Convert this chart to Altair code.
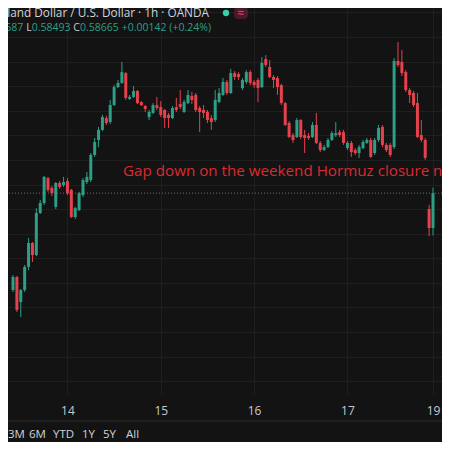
import altair as alt
import pandas as pd

# ---- hourly candles (NZD/USD, 1h) ----
open_ = [0.58271, 0.58324, 0.58222, 0.58271, 0.58365, 0.58462, 0.58413, 0.58584, 0.58625, 0.58726,
         0.58686, 0.58609, 0.58706, 0.58698, 0.58714, 0.58678, 0.58568, 0.58596, 0.58657, 0.58710,
         0.58718, 0.58820, 0.58881, 0.58922, 0.58970, 0.58954, 0.59023, 0.59096, 0.59113, 0.59153,
         0.59048, 0.59056, 0.59080, 0.59035, 0.59019, 0.58974, 0.58991, 0.59023, 0.59015, 0.59003,
         0.58983, 0.58970, 0.59015, 0.59027, 0.58995, 0.59031, 0.59060, 0.59064, 0.59011, 0.59003,
         0.58995, 0.58970, 0.58962, 0.59035, 0.59064, 0.59117, 0.59072, 0.59153, 0.59149, 0.59092,
         0.59117, 0.59157, 0.59117, 0.59125, 0.59096, 0.59210, 0.59178, 0.59137, 0.59133, 0.59104,
         0.59031, 0.58950, 0.58901, 0.58893, 0.58962, 0.58901, 0.58897, 0.58893, 0.58942, 0.58869,
         0.58840, 0.58852, 0.58881, 0.58901, 0.58913, 0.58913, 0.58848, 0.58869, 0.58840, 0.58828,
         0.58848, 0.58869, 0.58881, 0.58828, 0.58881, 0.58934, 0.58861, 0.58861, 0.58852, 0.59202,
         0.59198, 0.59157, 0.59084, 0.59072, 0.59031, 0.58901, 0.58881, 0.58600, 0.58523]
high = [0.58332, 0.58328, 0.58275, 0.58373, 0.58483, 0.58466, 0.58604, 0.58637, 0.58735, 0.58731,
        0.58694, 0.58710, 0.58714, 0.58731, 0.58726, 0.58682, 0.58609, 0.58670, 0.58726, 0.58751,
        0.58828, 0.58889, 0.58934, 0.58983, 0.58979, 0.59044, 0.59104, 0.59125, 0.59198, 0.59157,
        0.59064, 0.59100, 0.59084, 0.59039, 0.59023, 0.59003, 0.59031, 0.59056, 0.59039, 0.59007,
        0.58991, 0.59019, 0.59052, 0.59084, 0.59044, 0.59084, 0.59076, 0.59072, 0.59019, 0.59023,
        0.59003, 0.58983, 0.59084, 0.59092, 0.59133, 0.59125, 0.59170, 0.59161, 0.59157, 0.59133,
        0.59165, 0.59165, 0.59125, 0.59133, 0.59218, 0.59226, 0.59206, 0.59145, 0.59141, 0.59109,
        0.59035, 0.58958, 0.58909, 0.58970, 0.58966, 0.58922, 0.58909, 0.58954, 0.58991, 0.58877,
        0.58861, 0.58889, 0.58917, 0.58954, 0.58922, 0.58922, 0.58877, 0.58877, 0.58848, 0.58861,
        0.58881, 0.58889, 0.58889, 0.58889, 0.58942, 0.58942, 0.58869, 0.58869, 0.59214, 0.59279,
        0.59247, 0.59165, 0.59092, 0.59080, 0.59072, 0.58962, 0.58889, 0.58617, 0.58687]
low = [0.58263, 0.58182, 0.58161, 0.58263, 0.58352, 0.58385, 0.58409, 0.58580, 0.58617, 0.58670,
       0.58653, 0.58600, 0.58682, 0.58690, 0.58657, 0.58564, 0.58560, 0.58592, 0.58649, 0.58702,
       0.58710, 0.58812, 0.58852, 0.58917, 0.58942, 0.58946, 0.59019, 0.59092, 0.59109, 0.59044,
       0.59044, 0.59052, 0.59027, 0.59019, 0.58995, 0.58962, 0.58987, 0.59003, 0.58974, 0.58930,
       0.58930, 0.58966, 0.58995, 0.59007, 0.58991, 0.59027, 0.59027, 0.58995, 0.58913, 0.58970,
       0.58950, 0.58922, 0.58954, 0.59031, 0.59060, 0.59064, 0.59068, 0.59125, 0.59125, 0.59084,
       0.59109, 0.59104, 0.59092, 0.59035, 0.59092, 0.59178, 0.59133, 0.59092, 0.59064, 0.59023,
       0.58938, 0.58889, 0.58869, 0.58889, 0.58885, 0.58828, 0.58881, 0.58889, 0.58865, 0.58832,
       0.58836, 0.58848, 0.58877, 0.58893, 0.58893, 0.58861, 0.58840, 0.58812, 0.58820, 0.58808,
       0.58844, 0.58865, 0.58808, 0.58820, 0.58873, 0.58852, 0.58832, 0.58812, 0.58844, 0.59178,
       0.59141, 0.59076, 0.59031, 0.59015, 0.58889, 0.58873, 0.58800, 0.58490, 0.58493]
close = [0.58324, 0.58190, 0.58271, 0.58365, 0.58462, 0.58413, 0.58584, 0.58625, 0.58731, 0.58678,
         0.58665, 0.58706, 0.58690, 0.58710, 0.58665, 0.58568, 0.58604, 0.58665, 0.58718, 0.58731,
         0.58820, 0.58873, 0.58922, 0.58974, 0.58950, 0.59023, 0.59096, 0.59113, 0.59157, 0.59052,
         0.59056, 0.59080, 0.59031, 0.59023, 0.59007, 0.58995, 0.59023, 0.59011, 0.58983, 0.58970,
         0.58970, 0.59011, 0.59003, 0.59015, 0.59035, 0.59064, 0.59044, 0.59003, 0.58995, 0.58991,
         0.58962, 0.58954, 0.59044, 0.59072, 0.59117, 0.59072, 0.59153, 0.59137, 0.59137, 0.59125,
         0.59157, 0.59113, 0.59104, 0.59092, 0.59194, 0.59186, 0.59137, 0.59125, 0.59096, 0.59031,
         0.58942, 0.58893, 0.58881, 0.58962, 0.58893, 0.58889, 0.58889, 0.58942, 0.58869, 0.58840,
         0.58852, 0.58881, 0.58909, 0.58909, 0.58901, 0.58869, 0.58869, 0.58832, 0.58828, 0.58852,
         0.58873, 0.58881, 0.58812, 0.58881, 0.58930, 0.58861, 0.58840, 0.58820, 0.59202, 0.59186,
         0.59153, 0.59084, 0.59064, 0.59023, 0.58893, 0.58881, 0.58808, 0.58523, 0.58665]

day_labels = ["14", "15", "16", "17", "19"]
day_index = [14, 38, 62, 86, 108]
grid_prices = [0.579, 0.580, 0.581, 0.582, 0.583, 0.584, 0.585, 0.586,
               0.587, 0.588, 0.589, 0.590, 0.591, 0.592, 0.593, 0.594]
last_close = close[-1]

title_text = "New Zealand Dollar / U.S. Dollar \u00b7 1h \u00b7 OANDA"
note_text = "Gap down on the weekend Hormuz closure news"
ohlc_parts = ["O", "0.58523", " H", "0.58687", " L", "0.58493", " C", "0.58665", " +0.00142 (+0.24%)"]
ohlc_kind = ["key", "val", "key", "val", "key", "val", "key", "val", "val"]
range_buttons = ["3M", "6M", "YTD", "1Y", "5Y", "All"]

# ---- layout / style ----
W, H, BOTTOM = 434, 387, 47
BG = "#131313"
GRID = "#1f1f1f"
UP = "#2c9f86"
DOWN = "#e6424e"
FONT = "Open Sans"
range_button_x = [0, 21, 45, 74, 95, 118]

# approximate Open Sans advance widths (em) to lay the coloured OHLC pieces side by side
EM = {"0": .572, "1": .572, "2": .572, "3": .572, "4": .572, "5": .572, "6": .572, "7": .572,
      "8": .572, "9": .572, ".": .266, " ": .26, "+": .572, "(": .295, ")": .295, "%": .857,
      "O": .781, "H": .739, "L": .544, "C": .633}
OHLC_SIZE = 10.5
OHLC_END = 203.0
ends = []
cur = OHLC_END
for part in reversed(ohlc_parts):
    ends.append(cur)
    cur -= sum(EM.get(ch, .57) for ch in part) * OHLC_SIZE
ends = list(reversed(ends))
ohlc_df = pd.DataFrame({"t": ohlc_parts, "px": ends, "kind": ohlc_kind})

df = pd.DataFrame({"i": list(range(len(open_))), "o": open_, "h": high, "l": low, "c": close})
df["dir"] = ["up" if c >= o else "down" for o, c in zip(open_, close)]

xscale = alt.Scale(domain=[0.0, 109.03], nice=False, zero=False)
yscale = alt.Scale(domain=[0.578443, 0.594175], nice=False, zero=False)
label_expr = " : ".join(f"datum.value == {v} ? '{t}'" for v, t in zip(day_index, day_labels)) + " : ''"
xaxis = alt.Axis(values=day_index, labelExpr=label_expr, grid=True, gridColor=GRID, gridWidth=1,
                 ticks=False, domain=False, labelColor="#c8cad0", labelFontSize=12, labelFont=FONT,
                 labelPadding=10, title=None, labelAngle=0, labelFlush=False, labelOverlap=False)
yaxis = alt.Axis(values=grid_prices, grid=True, gridColor=GRID, gridWidth=1, labels=False,
                 ticks=False, domain=False, title=None, orient="right")
color = alt.Color("dir:N", scale=alt.Scale(domain=["up", "down"], range=[UP, DOWN]), legend=None)

base = alt.Chart(df)
wicks = base.mark_rule(strokeWidth=1).encode(
    x=alt.X("i:Q", scale=xscale, axis=xaxis),
    y=alt.Y("l:Q", scale=yscale, axis=yaxis),
    y2="h:Q",
    color=color,
)
bodies = base.mark_bar(width=3).encode(
    x=alt.X("i:Q", scale=xscale, axis=xaxis),
    y=alt.Y("o:Q", scale=yscale, axis=yaxis),
    y2="c:Q",
    color=color,
)
price_line = alt.Chart(pd.DataFrame({"p": [last_close]})).mark_rule(
    color="#6c6f76", strokeDash=[1, 2], strokeWidth=1
).encode(y=alt.Y("p:Q", scale=yscale, axis=yaxis))

title = alt.Chart(pd.DataFrame({"t": [title_text]})).mark_text(
    align="right", baseline="middle", font=FONT, fontSize=11.8, color="#d1d4dc"
).encode(x=alt.value(201), y=alt.value(5), text="t:N")

ohlc_vals = alt.Chart(ohlc_df[ohlc_df["kind"] == "val"]).mark_text(
    align="right", baseline="middle", font=FONT, fontSize=OHLC_SIZE, color=UP
).encode(x=alt.X("px:Q", scale=None), y=alt.value(20), text="t:N")
ohlc_keys = alt.Chart(ohlc_df[ohlc_df["kind"] == "key"]).mark_text(
    align="right", baseline="middle", font=FONT, fontSize=OHLC_SIZE, color="#c8cad0"
).encode(x=alt.X("px:Q", scale=None), y=alt.value(20), text="t:N")

dot = alt.Chart(pd.DataFrame({"k": [1]})).mark_circle(size=40, color="#35cfa8", opacity=1).encode(
    x=alt.value(218), y=alt.value(5))
badge = alt.Chart(pd.DataFrame({"k": [1]})).mark_rect(color="#4a1a28", cornerRadius=4).encode(
    x=alt.value(226), x2=alt.value(240), y=alt.value(-1), y2=alt.value(11))
badge_txt = alt.Chart(pd.DataFrame({"t": ["\u2248"]})).mark_text(
    align="center", baseline="middle", fontSize=12, color="#f0457a", font=FONT
).encode(x=alt.value(233), y=alt.value(5), text="t:N")

note = alt.Chart(pd.DataFrame({"t": [note_text]})).mark_text(
    align="left", baseline="middle", font=FONT, fontSize=15.2, color="#dc2a30"
).encode(x=alt.value(115), y=alt.value(163), text="t:N")

separator = alt.Chart(pd.DataFrame({"k": [1]})).mark_rule(color="#2a2a2a", strokeWidth=1).encode(
    x=alt.value(0), x2=alt.value(W), y=alt.value(413))
buttons = alt.Chart(pd.DataFrame({"t": range_buttons, "px": range_button_x})).mark_text(
    align="left", baseline="middle", font=FONT, fontSize=11.5, color="#d1d4dc"
).encode(x=alt.X("px:Q", scale=None), y=alt.value(427), text="t:N")

chart = alt.layer(
    wicks, bodies, price_line, title, ohlc_vals, ohlc_keys, dot, badge, badge_txt,
    note, separator, buttons
).properties(
    width=W, height=H,
    padding={"left": 0, "right": 0, "top": 0, "bottom": BOTTOM},
    autosize=alt.AutoSizeParams(type="none"),
    background=BG,
).configure_view(stroke=None)

chart.save("out.html", embed_options={"renderer": "svg", "actions": False})
